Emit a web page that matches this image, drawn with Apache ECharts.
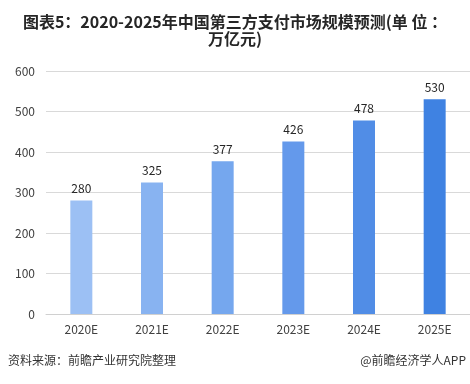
<!DOCTYPE html>
<html>
<head>
<meta charset="utf-8">
<script src="https://cdn.jsdelivr.net/npm/echarts@6/dist/echarts.min.js"></script>
<style>html,body{margin:0;padding:0;background:#fff;}#c{width:470px;height:384px;}</style>
</head>
<body>
<div id="c"></div>
<script>
const categories = ['2020E','2021E','2022E','2023E','2024E','2025E'];
const values = [280, 325, 377, 426, 478, 530];
const barColors = ['#9CC0F4','#88B3F1','#75A7EE','#6499EB','#518DE6','#3F82E2'];
const yTicks = [0, 100, 200, 300, 400, 500, 600];
const titleText = '图表5：2020-2025年中国第三方支付市场规模预测(单 位 ：\n万亿元)';
const sourceText = '资料来源：前瞻产业研究院整理';
const brandText = '@前瞻经济学人APP';

const font = '"Noto Sans CJK SC", "Noto Sans", sans-serif';
const chart = echarts.init(document.getElementById('c'));
chart.setOption({
  animation: false,
  textStyle: { fontFamily: font },
  graphic: [
    { type: 'text', x: 235, y: 13, style: { text: titleText, textAlign: 'center', fontSize: 16, fontWeight: 'bold', fill: '#262626', lineHeight: 17, fontFamily: font } },
    { type: 'text', left: 8, top: 354, style: { text: sourceText, fontSize: 12, fill: '#333', fontFamily: font } },
    { type: 'text', right: 4, top: 354, style: { text: brandText, fontSize: 12, fill: '#333', fontFamily: font } }
  ],
  grid: { left: 46, right: 0, top: 71, bottom: 70 },
  xAxis: {
    type: 'category',
    data: categories,
    axisTick: { show: false },
    axisLine: { lineStyle: { color: '#d0d0d0' } },
    axisLabel: { color: '#404040', fontSize: 12, margin: 9 }
  },
  yAxis: {
    type: 'value',
    min: yTicks[0],
    max: yTicks[yTicks.length - 1],
    interval: 100,
    axisLine: { show: false },
    axisTick: { show: false },
    splitLine: { lineStyle: { color: '#d9d9d9' } },
    axisLabel: { color: '#404040', fontSize: 12, margin: 11 }
  },
  series: [{
    type: 'bar',
    data: values.map((v, i) => ({ value: v, itemStyle: { color: barColors[i] } })),
    barWidth: 22,
    label: { show: true, position: 'top', distance: 6, color: '#262626', fontSize: 12 }
  }]
});
</script>
</body>
</html>
